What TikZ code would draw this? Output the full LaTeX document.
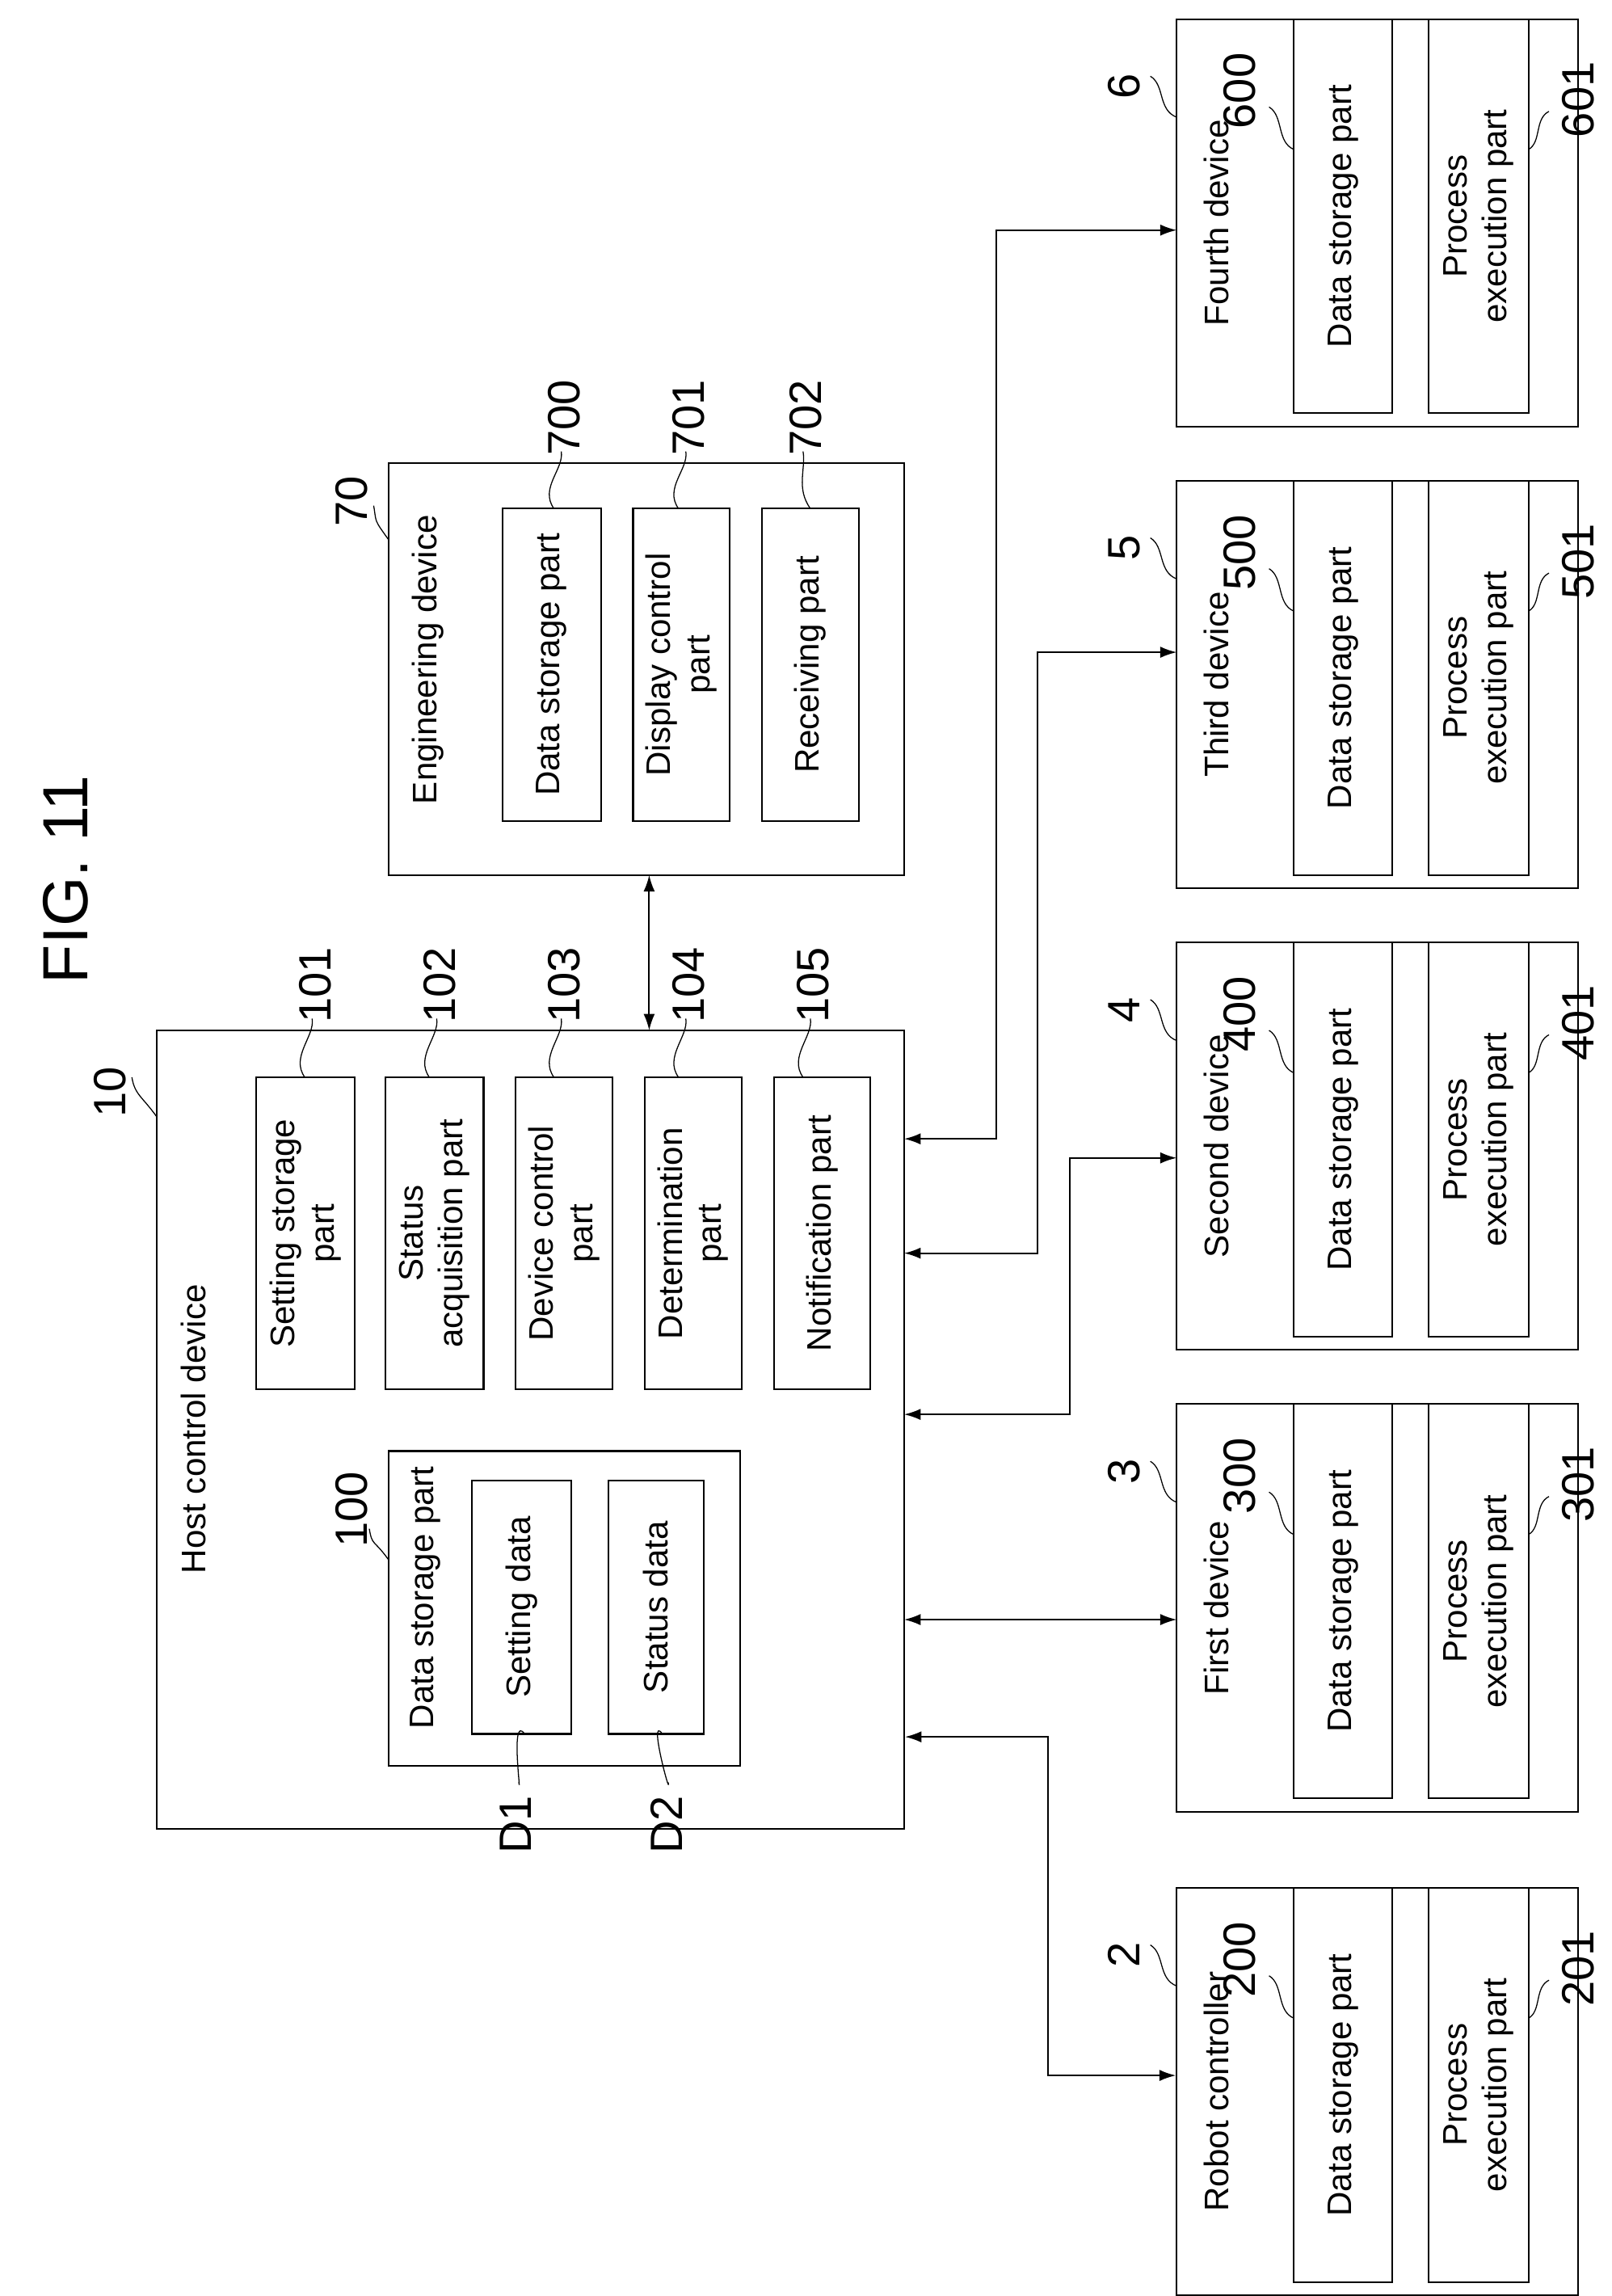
\documentclass[tikz,border=0pt]{standalone}
\usepackage{fontspec}
\setmainfont{Liberation Sans}
\usetikzlibrary{arrows.meta}
\begin{document}
\begin{tikzpicture}[x=0.05cm,y=0.05cm,
  lw/.style={line width=1.6pt},
  box/.style={draw,lw,rotate=90,inner sep=0pt,align=center,font=\fontsize{33}{38}\selectfont},
  lab/.style={rotate=90,inner sep=0pt,font=\fontsize{44}{48}\selectfont},
  ttl/.style={rotate=90,inner sep=0pt,font=\fontsize{33}{38}\selectfont},
  lead/.style={line width=1pt},
  con/.style={lw,{Latex[length=16pt,width=11pt]}-{Latex[length=16pt,width=11pt]}}]
\useasboundingbox (0,0) rectangle (1100,-1566.5);
% box macro: name, x1, y1, x2, y2, text
\newcommand{\bx}[6]{\node[box,minimum width={(#5-#3)*0.05cm},minimum height={(#4-#2)*0.05cm}] (#1) at ({(#2+#4)/2},{-(#3+#5)/2}) {#6};}
\newcommand{\ld}[4]{\draw[lead] (#1,-#2) .. controls ({#1+2},{-#2-12}) and ({#3-10},{-#4+14}) .. (#3,-#4);}
\node[rotate=90,font=\fontsize{62}{66}\selectfont] (fig) at (45,-600) {FIG. 11};
% host
\bx{host}{107}{703}{617}{1248}{}
\node[ttl] (hosttxt) at (132,-975) {Host control device};
\bx{ds}{265}{990}{505}{1205}{}
\node[ttl] (dstxt) at (290,-1090) {Data storage part};
\bx{sd}{322}{1010}{390}{1183}{Setting data}
\bx{st}{415}{1010}{480}{1183}{Status data}
\bx{b101}{175}{735}{242}{948}{Setting storage\\part}
\bx{b102}{263}{735}{330}{948}{Status\\acquisition part}
\bx{b103}{352}{735}{418}{948}{Device control\\part}
\bx{b104}{440}{735}{506}{948}{Determination\\part}
\bx{b105}{528}{735}{594}{948}{Notification part}
\node[lab] (l10) at (75,-745) {10}; \ld{90}{735}{107}{762}
\node[lab] (l100) at (240,-1030) {100}; \ld{252}{1043}{265}{1064}
\node[lab] (l101) at (215,-672) {101}; \ld{213}{695}{208}{735}
\node[lab] (l102) at (300,-672) {102}; \ld{298}{695}{293}{735}
\node[lab] (l103) at (385,-672) {103}; \ld{383}{695}{378}{735}
\node[lab] (l104) at (470,-672) {104}; \ld{468}{695}{463}{735}
\node[lab] (l105) at (555,-672) {105}; \ld{553}{695}{548}{735}
\node[lab] (d1) at (352,-1245) {D1}; \ld{354}{1216}{358}{1183}
\node[lab] (d2) at (455,-1245) {D2}; \ld{456}{1216}{452}{1183}
% engineering
\bx{eng}{265}{316}{617}{597}{}
\node[ttl] (engtxt) at (292,-450) {Engineering device};
\bx{b700}{343}{347}{410}{560}{Data storage part}
\bx{b701}{432}{347}{498}{560}{Display control\\part}
\bx{b702}{520}{347}{586}{560}{Receiving part}
\node[lab] (l70) at (240,-342) {70}; \ld{255}{345}{265}{368}
\node[lab] (l700) at (385,-285) {700}; \ld{383}{308}{378}{347}
\node[lab] (l701) at (470,-285) {701}; \ld{468}{308}{463}{347}
\node[lab] (l702) at (550,-285) {702}; \ld{548}{308}{553}{347}
\draw[con] (443,-597) -- (443,-703);
% devices
\newcommand{\dev}[4]{% name, top, title, num
  \bx{#1}{803}{#2}{1077}{#2+278}{}
  \node[ttl] (#1t) at (830,{-(#2+139)}) {#3};
  \bx{#1a}{883}{#2+22}{950}{#2+247}{Data storage part}
  \bx{#1b}{975}{#2+22}{1043}{#2+247}{Process\\execution part}
  \node[lab] (#1n) at (767,{-(#2+46)}) {#4};
  \node[lab] (#1na) at (846,{-(#2+49)}) {#400};
  \node[lab] (#1nb) at (1077,{-(#2+55)}) {#401};
  \draw[lead] (785,{-(#2+39)}) .. controls (795,{-(#2+45)}) and (790,{-(#2+62)}) .. (803,{-(#2+67)});
  \draw[lead] (866,{-(#2+60)}) .. controls (876,{-(#2+66)}) and (871,{-(#2+84)}) .. (883,{-(#2+89)});
  \draw[lead] (1057,{-(#2+63)}) .. controls (1047,{-(#2+68)}) and (1052,{-(#2+84)}) .. (1043,{-(#2+89)});
}
\dev{r}{1288}{Robot controller}{2}
\dev{f}{958}{First device}{3}
\dev{s}{643}{Second device}{4}
\dev{t}{328}{Third device}{5}
\dev{q}{13}{Fourth device}{6}
\node[lab] at (0,0) {};
% connectors
\draw[con] (host.south west |- 0,-1185) -| (715,-1300) |- (r.north east |- 0,-1416);
\draw[con] (617,-1105) -- (803,-1105);
\draw[con] (617,-965) -| (730,-850) |- (803,-790);
\draw[con] (617,-855) -| (708,-600) |- (803,-445);
\draw[con] (617,-777) -| (680,-400) |- (803,-157);
\end{tikzpicture}
\end{document}
